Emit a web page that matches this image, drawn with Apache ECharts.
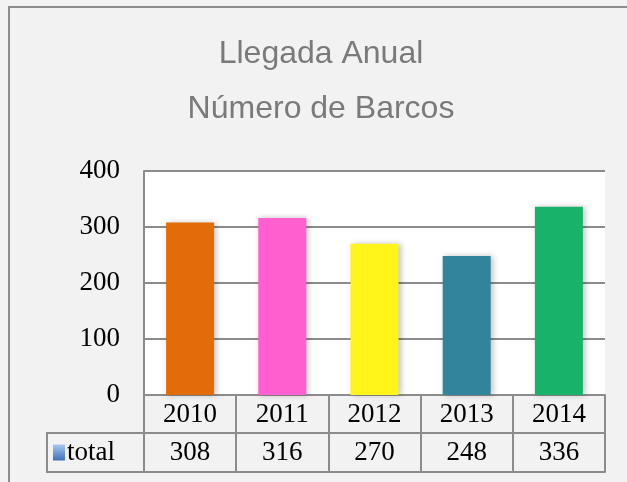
<!DOCTYPE html>
<html lang="es">
<head>
    <meta charset="UTF-8">
    <title>Llegada Anual</title>
    <script src="https://cdn.jsdelivr.net/npm/echarts@6/dist/echarts.min.js"></script>
    <style>
        html, body { margin: 0; padding: 0; background: #f2f2f2; }
        #main { width: 627px; height: 482px; }
    </style>
</head>
<body>
    <div id="main"></div>
    <script type="text/javascript">
        var years = ['2010', '2011', '2012', '2013', '2014'];
        var total = [308, 316, 270, 248, 336];
        var barColors = ['#e36c0a', '#ff5fcf', '#fff51a', '#31849b', '#19b26a'];
        var yTicks = [0, 100, 200, 300, 400];

        var lineGray = '#8c8c8c';
        var serif = '"Liberation Serif", "Times New Roman", serif';

        var myChart = echarts.init(document.getElementById('main'));
        var option = {
            backgroundColor: '#f2f2f2',
            animation: false,
            title: {
                text: 'Llegada Anual\nNúmero de Barcos',
                left: 321,
                textAlign: 'center',
                top: 27,
                padding: 0,
                textStyle: {
                    color: '#7a7a7a',
                    fontFamily: '"Liberation Sans", Arial, sans-serif',
                    fontWeight: 'normal',
                    fontSize: 32,
                    lineHeight: 55
                }
            },
            legend: {
                left: 53,
                top: 439,
                padding: 0,
                itemWidth: 12,
                itemHeight: 16,
                itemGap: 4,
                icon: 'rect',
                textStyle: { fontFamily: serif, fontSize: 27, color: '#000', padding: [0, 0, 0, -3] },
                data: [{
                    name: 'total',
                    itemStyle: {
                        color: new echarts.graphic.LinearGradient(0, 0, 0, 1, [
                            { offset: 0, color: '#a9c8f0' },
                            { offset: 1, color: '#3f70b8' }
                        ])
                    }
                }]
            },
            grid: {
                left: 144,
                right: 22,
                top: 171,
                bottom: 87,
                show: true,
                backgroundColor: '#ffffff',
                borderWidth: 0
            },
            xAxis: [{
                type: 'category',
                data: years,
                boundaryGap: true,
                axisLine: { show: true, lineStyle: { color: lineGray, width: 2 } },
                axisTick: { show: true, length: 77, interval: 0, lineStyle: { color: lineGray, width: 2 } },
                axisLabel: { margin: 6, fontFamily: serif, fontSize: 27, color: '#000', interval: 0 }
            }, {
                type: 'category',
                position: 'bottom',
                offset: 38,
                data: total.map(String),
                boundaryGap: true,
                axisLine: { show: true, lineStyle: { color: lineGray, width: 2 } },
                axisTick: { show: false },
                axisLabel: { margin: 6, fontFamily: serif, fontSize: 27, color: '#000', interval: 0 }
            }, {
                type: 'category',
                position: 'bottom',
                offset: 77,
                data: years,
                axisLine: { show: true, lineStyle: { color: lineGray, width: 2 } },
                axisTick: { show: false },
                axisLabel: { show: false }
            }],
            yAxis: {
                type: 'value',
                min: yTicks[0],
                max: yTicks[yTicks.length - 1],
                interval: 100,
                axisLine: { show: true, lineStyle: { color: lineGray, width: 2 } },
                axisTick: { show: false },
                axisLabel: { margin: 24, fontFamily: serif, fontSize: 27, color: '#000' },
                splitLine: { lineStyle: { color: lineGray, width: 2 } }
            },
            series: [{
                name: 'total',
                type: 'bar',
                xAxisIndex: 0,
                barWidth: 48,
                itemStyle: {
                    shadowBlur: 6,
                    shadowColor: 'rgba(0, 0, 0, 0.25)',
                    shadowOffsetX: 2
                },
                data: total.map(function (v, i) {
                    return { value: v, itemStyle: { color: barColors[i] } };
                })
            }],
            graphic: [{
                type: 'rect',
                shape: { x: 9, y: 7, width: 700, height: 600 },
                style: { fill: 'none', stroke: lineGray, lineWidth: 2 },
                silent: true
            }, {
                type: 'rect',
                shape: { x: 47, y: 433, width: 97, height: 39 },
                style: { fill: 'none', stroke: lineGray, lineWidth: 2 },
                silent: true
            }]
        };
        myChart.setOption(option);
        window.onresize = myChart.resize;
    </script>
</body>
</html>
